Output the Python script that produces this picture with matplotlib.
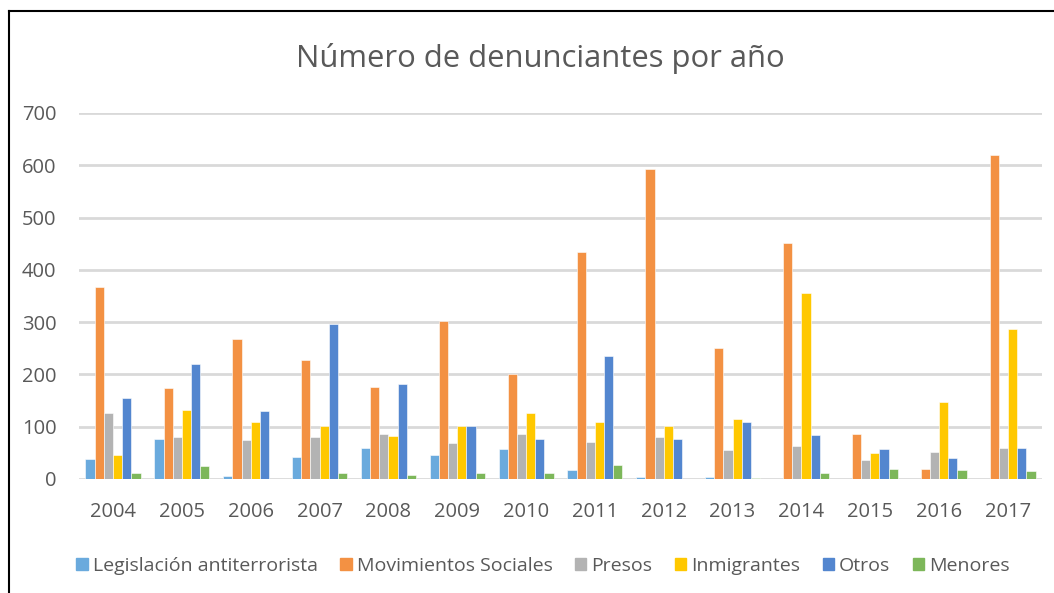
import numpy as np
import matplotlib.pyplot as plt
from matplotlib.lines import Line2D

años = ['2004', '2005', '2006', '2007', '2008', '2009', '2010',
        '2011', '2012', '2013', '2014', '2015', '2016', '2017']

legislacion = [38, 76, 5, 43, 60, 46, 57, 17, 3, 3, 0, 0, 0, 0]
movimientos = [368, 174, 268, 227, 176, 303, 200, 435, 592, 251, 452, 87, 19, 619]
presos = [126, 80, 74, 80, 86, 69, 86, 71, 80, 55, 64, 36, 51, 60]
inmigrantes = [46, 132, 109, 102, 83, 102, 126, 109, 102, 114, 356, 50, 147, 286]
otros = [154, 220, 130, 296, 181, 102, 76, 235, 76, 109, 84, 57, 41, 60]
menores = [12, 24, 0, 12, 8, 12, 12, 26, 0, 2, 12, 19, 17, 15]

series = [legislacion, movimientos, presos, inmigrantes, otros, menores]
nombres = ['Legislación antiterrorista', 'Movimientos Sociales', 'Presos',
           'Inmigrantes', 'Otros', 'Menores']
colores = ['#6AAADD', '#F39143', '#B3B3B3', '#FFC800', '#5386CF', '#7DB75A']

plt.rcParams['font.family'] = ['Open Sans', 'DejaVu Sans']
gris = '#595959'

fig = plt.figure(figsize=(10.54, 5.93), dpi=100)
ax = fig.add_axes([78.6 / 1054, 114 / 593, (1042.4 - 78.6) / 1054, (479 - 113) / 593])

x = np.arange(len(años))
ancho = 0.8 / 6
for i, (vals, col) in enumerate(zip(series, colores)):
    ax.bar(x - 0.4 + ancho * (i + 0.5), vals, width=ancho, color=col,
           edgecolor='white', linewidth=0.4, zorder=3)

ax.set_xlim(-0.5, len(años) - 0.5)
ax.set_ylim(0, 700)
ax.set_yticks(range(0, 701, 100))
ax.set_xticks(x)
ax.set_xticklabels(años)
ax.grid(axis='y', color='#D9D9D9', linewidth=2, zorder=0)
for s in ax.spines.values():
    s.set_visible(False)
ax.tick_params(axis='y', length=0, pad=16, labelsize=14.5, labelcolor=gris)
ax.tick_params(axis='x', length=0, pad=16.5, labelsize=14.5, labelcolor=gris)

fig.text(540 / 1054, 1 - 58 / 593, 'Número de denunciantes por año', ha='center',
         va='center', fontsize=22.3, color=gris)

handles = [plt.Rectangle((0, 0), 1, 1, color=c) for c in colores]
fig.legend(handles, nombres, loc='center', bbox_to_anchor=(543 / 1054, 1 - 566 / 593),
           ncol=6, frameon=False, fontsize=14, labelcolor=gris, handlelength=0.6,
           handleheight=0.6, handletextpad=0.25, columnspacing=1.15)

# marco exterior
fig.add_artist(Line2D([9 / 1054, 9 / 1054], [0, 1 - 11 / 593], color='black', linewidth=1.5))
fig.add_artist(Line2D([9 / 1054, 1], [1 - 11 / 593, 1 - 11 / 593], color='black', linewidth=1.5))

fig.savefig('out.png', dpi=100, facecolor='white')
